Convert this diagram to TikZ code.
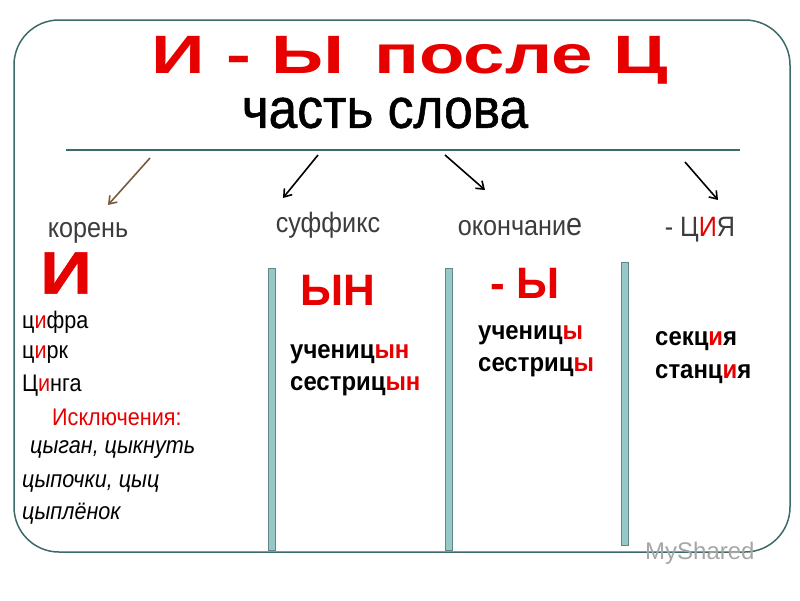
\documentclass[tikz,border=0pt]{standalone}
\usepackage{fontspec}
\setmainfont{Liberation Sans}
\usetikzlibrary{arrows.meta}
\definecolor{frame}{RGB}{60,105,105}
\definecolor{barfill}{RGB}{150,200,200}
\definecolor{rd}{RGB}{230,0,0}
\definecolor{gr}{RGB}{60,60,60}
\begin{document}
\begin{tikzpicture}[x=1pt,y=-1pt,
  every node/.style={inner sep=0pt},
  arr/.style={line width=1.6pt,-{Straight Barb[length=7pt,width=10pt]}},
  bar/.style={draw=frame!80,fill=barfill,line width=0.8pt},
  lst/.style={anchor=west,font=\fontsize{24}{24}\selectfont\addfontfeatures{FakeStretch=0.9}},
  bl/.style={anchor=west,font=\fontsize{26}{26}\selectfont\bfseries\addfontfeatures{FakeStretch=0.92}},
  hd/.style={font=\fontsize{28}{28}\selectfont\addfontfeatures{FakeStretch=0.9},text=gr}]
\useasboundingbox (0,0) rectangle (800,600);
\draw[frame,line width=1.5pt,rounded corners=45pt] (14,20) rectangle (790,552);
\node (title) at (410,60) {\fontsize{54}{54}\selectfont\bfseries\addfontfeatures{FakeStretch=1.38}\color{rd}И - Ы\, после Ц};
\node (word) at (385,113) {\fontsize{56}{56}\selectfont\addfontfeatures{FakeStretch=0.92,FakeBold=1}часть слова};
\draw[frame,line width=2pt] (66,150) -- (740,150);
\coordinate (a1) at (150,158); \coordinate (a1e) at (108,205);
\coordinate (a2) at (318,155); \coordinate (a2e) at (283,198);
\coordinate (a3) at (445,155); \coordinate (a3e) at (485,190);
\coordinate (a4) at (685,162); \coordinate (a4e) at (718,200);
\node[hd] (root) at (88,233) {корень};
\node[hd] (suf) at (328,225) {суффикс};
\node[hd] (end) at (520,227) {окончани{\fontsize{32}{32}\selectfont е}};
\node[hd] (cia) at (700,230) {- Ц{\color{rd}И}Я};
\draw[arr,draw={rgb,255:red,120;green,90;blue,60}] (a1) -- (a1e);
\draw[arr] (a2) -- (a2e);
\draw[arr] (a3) -- (a3e);
\draw[arr] (a4) -- (a4e);
\node (bigi) at (66,273) {\fontsize{60}{60}\selectfont\bfseries\addfontfeatures{FakeStretch=1.2,FakeBold=1}\color{rd}И};
\node (yn) at (338,290) {\fontsize{44}{44}\selectfont\bfseries\color{rd}ЫН};
\node (y) at (525,283) {\fontsize{44}{44}\selectfont\bfseries\color{rd}- Ы};
\draw[bar] (268,268) rectangle (275,550);
\draw[bar] (445,268) rectangle (452,550);
\draw[bar] (621,262) rectangle (628,545);
\node[lst] (l1) at (22,322) {ц{\color{rd}и}фра};
\node[lst] (l2) at (22,355) {ц{\color{rd}и}рк};
\node[lst] (l3) at (22,386) {Ц{\color{rd}и}нга};
\node[lst,text=rd] (l4) at (52,417) {Исключения:};
\node[lst] (l5) at (30,450) {\itshape цыган, цыкнуть};
\node[lst] (l6) at (22,483) {\itshape цыпочки, цыц};
\node[lst] (l7) at (22,514) {\itshape цыплёнок};
\node[bl] (m1) at (290,354) {учениц{\color{rd}ын}};
\node[bl] (m2) at (290,386) {сестриц{\color{rd}ын}};
\node[bl] (r1) at (478,335) {учениц{\color{rd}ы}};
\node[bl] (r2) at (478,367) {сестриц{\color{rd}ы}};
\node[bl] (s1) at (655,341) {секц{\color{rd}и}я};
\node[bl] (s2) at (655,374) {станц{\color{rd}и}я};
\node[anchor=west,text=gray!70,font=\fontsize{24}{24}\selectfont] (ms) at (645,553) {MyShared};
\end{tikzpicture}
\end{document}
